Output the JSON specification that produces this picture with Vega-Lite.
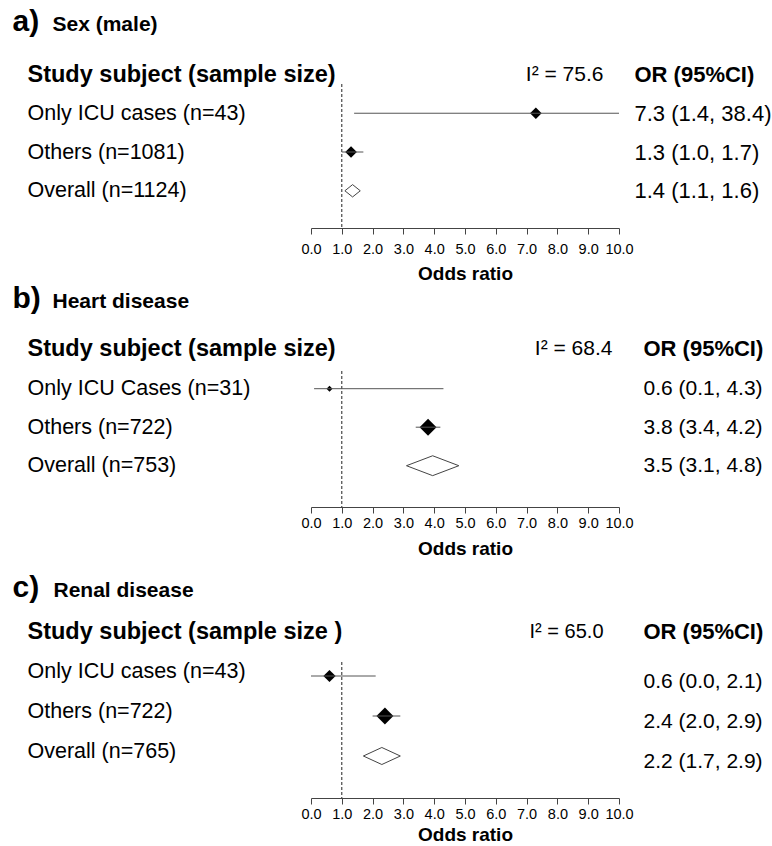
{
  "$schema": "https://vega.github.io/schema/vega-lite/v6.json",
  "background": "white",
  "padding": {"left": 12, "top": 6, "right": 0, "bottom": 0},
  "autosize": {"type": "pad"},
  "spacing": 13,
  "config": {
    "view": {"stroke": null},
    "axis": {"grid": false, "labelColor": "black", "titleColor": "black", "labelFont": "Liberation Sans", "titleFont": "Liberation Sans"}
  },
  "datasets": {
    "a": [
      {"row": 1, "label": "Only ICU cases (n=43)", "ci": "7.3 (1.4, 38.4)", "or": 7.3, "lo": 1.4, "hi": 38.4, "weight": 45, "type": "study"},
      {"row": 2, "label": "Others (n=1081)", "ci": "1.3 (1.0, 1.7)", "or": 1.3, "lo": 1.0, "hi": 1.7, "weight": 45, "type": "study"},
      {"row": 3, "label": "Overall (n=1124)", "ci": "1.4 (1.1, 1.6)", "or": 1.4, "lo": 1.1, "hi": 1.6, "type": "overall"}
    ],
    "b": [
      {"row": 1, "label": "Only ICU Cases (n=31)", "ci": "0.6 (0.1, 4.3)", "or": 0.6, "lo": 0.1, "hi": 4.3, "weight": 12, "type": "study"},
      {"row": 2, "label": "Others (n=722)", "ci": "3.8 (3.4, 4.2)", "or": 3.8, "lo": 3.4, "hi": 4.2, "weight": 95, "type": "study"},
      {"row": 3, "label": "Overall (n=753)", "ci": "3.5 (3.1, 4.8)", "or": 3.5, "lo": 3.1, "hi": 4.8, "type": "overall"}
    ],
    "c": [
      {"row": 1, "label": "Only ICU cases (n=43)", "ci": "0.6 (0.0, 2.1)", "or": 0.6, "lo": 0.0, "hi": 2.1, "weight": 50, "type": "study"},
      {"row": 2, "label": "Others (n=722)", "ci": "2.4 (2.0, 2.9)", "or": 2.4, "lo": 2.0, "hi": 2.9, "weight": 95, "type": "study"},
      {"row": 3, "label": "Overall (n=765)", "ci": "2.2 (1.7, 2.9)", "or": 2.2, "lo": 1.7, "hi": 2.9, "type": "overall"}
    ]
  },
  "vconcat": [
    {
      "spacing": -1,
      "vconcat": [
        {
          "width": 308,
          "height": 144,
          "data": {"name": "a"},
          "resolve": {"scale": {"x": "independent", "y": "independent"}},
          "layer": [
            {
              "resolve": {"scale": {"size": "independent", "x": "independent"}},
              "layer": [
                {
                  "data": {"values": [{"ref": 1}]},
                  "mark": {"type": "rule", "strokeDash": [3, 2], "color": "#222", "strokeWidth": 1},
                  "encoding": {
                    "x": {"field": "ref", "type": "quantitative", "scale": {"domain": [0, 10], "clamp": true},
                      "axis": {"orient": "bottom", "values": [0,1,2,3,4,5,6,7,8,9,10], "format": ".1f", "labelOverlap": false, "labelFlush": false, "domainColor": "#444", "tickColor": "#444", "tickSize": 6, "labelFontSize": 14.5, "labelPadding": 8, "title": "Odds ratio", "titleFontSize": 19, "titleFontWeight": "bold", "titlePadding": 9}}
                  }
                },
                {
                  "transform": [{"filter": "datum.type === 'study'"}],
                  "mark": {"type": "point", "shape": "diamond", "filled": true, "color": "black", "opacity": 1},
                  "encoding": {
                    "x": {"field": "or", "type": "quantitative", "scale": {"domain": [0, 10], "clamp": true},
                      "axis": {"orient": "top", "domain": false, "ticks": false, "labels": false, "title": "a)", "titleX": -299, "titleY": -54, "titleAlign": "left", "titleBaseline": "alphabetic", "titleFontSize": 30, "titleFontWeight": "bold"}},
                    "y": {"field": "label", "type": "nominal", "sort": {"field": "row", "op": "min"}, "scale": {"type": "point", "padding": 0.857, "align": 0.44},
                      "axis": {"orient": "left", "domain": false, "ticks": false, "tickSize": 0, "labelAlign": "left", "labelBaseline": "middle", "labelPadding": 284, "labelLimit": 600, "labelFontSize": 21.5, "title": "Study subject (sample size)", "titleAngle": 0, "titleAlign": "left", "titleBaseline": "middle", "titleX": -284, "titleY": -10, "titleFontSize": 23.5, "titleFontWeight": "bold"}},
                    "size": {"field": "weight", "type": "quantitative", "scale": {"domain": [0, 100], "range": [0, 300]}, "legend": null}
                  }
                },
                {
                  "transform": [{"filter": "datum.type === 'overall'"}, {"calculate": "(datum.lo + datum.hi) / 2", "as": "mid"}, {"calculate": "datum.hi - datum.lo", "as": "span"}],
                  "mark": {"type": "point", "shape": "M-1,0L0,-0.8L1,0L0,0.8Z", "filled": true, "fill": "white", "stroke": "#444", "strokeWidth": 1, "opacity": 1},
                  "encoding": {
                    "x": {"field": "mid", "type": "quantitative", "scale": {"domain": [0, 10], "clamp": true},
                      "axis": {"orient": "top", "domain": false, "ticks": false, "labels": false, "title": "Sex (male)", "titleX": -259, "titleY": -54, "titleAlign": "left", "titleBaseline": "alphabetic", "titleFontSize": 21, "titleFontWeight": "bold"}},
                    "y": {"field": "label", "type": "nominal", "sort": {"field": "row", "op": "min"}, "scale": {"type": "point", "padding": 0.857, "align": 0.44},
                      "axis": {"orient": "left", "domain": false, "ticks": false, "tickSize": 0, "labelAlign": "left", "labelBaseline": "middle", "labelPadding": 284, "labelLimit": 600, "labelFontSize": 21.5, "title": "Study subject (sample size)", "titleAngle": 0, "titleAlign": "left", "titleBaseline": "middle", "titleX": -284, "titleY": -10, "titleFontSize": 23.5, "titleFontWeight": "bold"}},
                    "size": {"field": "span", "type": "quantitative", "scale": {"type": "pow", "exponent": 2, "domain": [0, 10], "range": [0, 94864]}, "legend": null}
                  }
                }
              ]
            },
            {
              "mark": {"type": "rule", "color": "#555", "strokeWidth": 1},
              "encoding": {
                "x": {"field": "lo", "type": "quantitative", "scale": {"domain": [0, 10], "clamp": true},
                  "axis": {"orient": "top", "domain": false, "ticks": false, "labels": false, "title": "I² = 75.6", "titleX": 292, "titleY": -10, "titleAlign": "right", "titleBaseline": "middle", "titleFontSize": 21, "titleFontWeight": "normal"}},
                "x2": {"field": "hi"},
                "y": {"field": "ci", "type": "nominal", "sort": {"field": "row", "op": "min"}, "scale": {"type": "point", "padding": 0.857, "align": 0.44},
                  "axis": {"orient": "right", "domain": false, "ticks": false, "tickSize": 0, "labelAlign": "left", "labelBaseline": "middle", "labelPadding": 15, "labelLimit": 600, "labelFontSize": 22, "title": "OR (95%CI)", "titleAngle": 0, "titleAlign": "left", "titleBaseline": "middle", "titleX": 15, "titleY": -10, "titleFontSize": 22, "titleFontWeight": "bold"}},
                "strokeOpacity": {"field": "type", "type": "nominal", "scale": {"domain": ["study", "overall"], "range": [1, 0]}, "legend": null}
              }
            }
          ]
        },
        {
          "width": 308,
          "height": 136,
          "data": {"name": "b"},
          "resolve": {"scale": {"x": "independent", "y": "independent"}},
          "layer": [
            {
              "resolve": {"scale": {"size": "independent", "x": "independent"}},
              "layer": [
                {
                  "data": {"values": [{"ref": 1}]},
                  "mark": {"type": "rule", "strokeDash": [3, 2], "color": "#222", "strokeWidth": 1},
                  "encoding": {
                    "x": {"field": "ref", "type": "quantitative", "scale": {"domain": [0, 10], "clamp": true},
                      "axis": {"orient": "bottom", "values": [0,1,2,3,4,5,6,7,8,9,10], "format": ".1f", "labelOverlap": false, "labelFlush": false, "domainColor": "#444", "tickColor": "#444", "tickSize": 6, "labelFontSize": 14.5, "labelPadding": 3, "title": "Odds ratio", "titleFontSize": 19, "titleFontWeight": "bold", "titlePadding": 10}}
                  }
                },
                {
                  "transform": [{"filter": "datum.type === 'study'"}],
                  "mark": {"type": "point", "shape": "diamond", "filled": true, "color": "black", "opacity": 1},
                  "encoding": {
                    "x": {"field": "or", "type": "quantitative", "scale": {"domain": [0, 10], "clamp": true},
                      "axis": {"orient": "top", "domain": false, "ticks": false, "labels": false, "title": "b)", "titleX": -299, "titleY": -64, "titleAlign": "left", "titleBaseline": "alphabetic", "titleFontSize": 30, "titleFontWeight": "bold"}},
                    "y": {"field": "label", "type": "nominal", "sort": {"field": "row", "op": "min"}, "scale": {"type": "point", "padding": 0.766, "align": 0.3},
                      "axis": {"orient": "left", "domain": false, "ticks": false, "tickSize": 0, "labelAlign": "left", "labelBaseline": "middle", "labelPadding": 284, "labelLimit": 600, "labelFontSize": 21.5, "title": "Study subject (sample size)", "titleAngle": 0, "titleAlign": "left", "titleBaseline": "middle", "titleX": -284, "titleY": -23, "titleFontSize": 23.5, "titleFontWeight": "bold"}},
                    "size": {"field": "weight", "type": "quantitative", "scale": {"domain": [0, 100], "range": [0, 300]}, "legend": null}
                  }
                },
                {
                  "transform": [{"filter": "datum.type === 'overall'"}, {"calculate": "(datum.lo + datum.hi) / 2", "as": "mid"}, {"calculate": "datum.hi - datum.lo", "as": "span"}],
                  "mark": {"type": "point", "shape": "M-1,0L0,-0.38L1,0L0,0.38Z", "filled": true, "fill": "white", "stroke": "#444", "strokeWidth": 1, "opacity": 1},
                  "encoding": {
                    "x": {"field": "mid", "type": "quantitative", "scale": {"domain": [0, 10], "clamp": true},
                      "axis": {"orient": "top", "domain": false, "ticks": false, "labels": false, "title": "Heart disease", "titleX": -259, "titleY": -64, "titleAlign": "left", "titleBaseline": "alphabetic", "titleFontSize": 21, "titleFontWeight": "bold"}},
                    "y": {"field": "label", "type": "nominal", "sort": {"field": "row", "op": "min"}, "scale": {"type": "point", "padding": 0.766, "align": 0.3},
                      "axis": {"orient": "left", "domain": false, "ticks": false, "tickSize": 0, "labelAlign": "left", "labelBaseline": "middle", "labelPadding": 284, "labelLimit": 600, "labelFontSize": 21.5, "title": "Study subject (sample size)", "titleAngle": 0, "titleAlign": "left", "titleBaseline": "middle", "titleX": -284, "titleY": -23, "titleFontSize": 23.5, "titleFontWeight": "bold"}},
                    "size": {"field": "span", "type": "quantitative", "scale": {"type": "pow", "exponent": 2, "domain": [0, 10], "range": [0, 94864]}, "legend": null}
                  }
                }
              ]
            },
            {
              "mark": {"type": "rule", "color": "#555", "strokeWidth": 1},
              "encoding": {
                "x": {"field": "lo", "type": "quantitative", "scale": {"domain": [0, 10], "clamp": true},
                  "axis": {"orient": "top", "domain": false, "ticks": false, "labels": false, "title": "I² = 68.4", "titleX": 301, "titleY": -23, "titleAlign": "right", "titleBaseline": "middle", "titleFontSize": 21, "titleFontWeight": "normal"}},
                "x2": {"field": "hi"},
                "y": {"field": "ci", "type": "nominal", "sort": {"field": "row", "op": "min"}, "scale": {"type": "point", "padding": 0.766, "align": 0.3},
                  "axis": {"orient": "right", "domain": false, "ticks": false, "tickSize": 0, "labelAlign": "left", "labelBaseline": "middle", "labelPadding": 24, "labelLimit": 600, "labelFontSize": 21, "title": "OR (95%CI)", "titleAngle": 0, "titleAlign": "left", "titleBaseline": "middle", "titleX": 24, "titleY": -23, "titleFontSize": 22, "titleFontWeight": "bold"}},
                "strokeOpacity": {"field": "type", "type": "nominal", "scale": {"domain": ["study", "overall"], "range": [1, 0]}, "legend": null}
              }
            }
          ]
        }
      ]
    },
    {
      "width": 308,
      "height": 136,
      "data": {"name": "c"},
      "resolve": {"scale": {"x": "independent", "y": "independent"}},
      "layer": [
        {
          "resolve": {"scale": {"size": "independent", "x": "independent"}},
          "layer": [
            {
              "data": {"values": [{"ref": 1}]},
              "mark": {"type": "rule", "strokeDash": [3, 2], "color": "#222", "strokeWidth": 1},
              "encoding": {
                "x": {"field": "ref", "type": "quantitative", "scale": {"domain": [0, 10], "clamp": true},
                  "axis": {"orient": "bottom", "values": [0,1,2,3,4,5,6,7,8,9,10], "format": ".1f", "labelOverlap": false, "labelFlush": false, "domainColor": "#444", "tickColor": "#444", "tickSize": 6, "labelFontSize": 14.5, "labelPadding": 3, "title": "Odds ratio", "titleFontSize": 19, "titleFontWeight": "bold", "titlePadding": 5}}
              }
            },
            {
              "transform": [{"filter": "datum.type === 'study'"}],
              "mark": {"type": "point", "shape": "diamond", "filled": true, "color": "black", "opacity": 1},
              "encoding": {
                "x": {"field": "or", "type": "quantitative", "scale": {"domain": [0, 10], "clamp": true},
                  "axis": {"orient": "top", "domain": false, "ticks": false, "labels": false, "title": "c)", "titleX": -299, "titleY": -66, "titleAlign": "left", "titleBaseline": "alphabetic", "titleFontSize": 30, "titleFontWeight": "bold"}},
                "y": {"field": "label", "type": "nominal", "sort": {"field": "row", "op": "min"}, "scale": {"type": "point", "padding": 0.7, "align": 0.25},
                  "axis": {"orient": "left", "domain": false, "ticks": false, "tickSize": 0, "labelAlign": "left", "labelBaseline": "middle", "labelPadding": 284, "labelOffset": -5, "labelLimit": 600, "labelFontSize": 21.5, "title": "Study subject (sample size )", "titleAngle": 0, "titleAlign": "left", "titleBaseline": "middle", "titleX": -284, "titleY": -31, "titleFontSize": 23.5, "titleFontWeight": "bold"}},
                "size": {"field": "weight", "type": "quantitative", "scale": {"domain": [0, 100], "range": [0, 300]}, "legend": null}
              }
            },
            {
              "transform": [{"filter": "datum.type === 'overall'"}, {"calculate": "(datum.lo + datum.hi) / 2", "as": "mid"}, {"calculate": "datum.hi - datum.lo", "as": "span"}],
              "mark": {"type": "point", "shape": "M-1,0L0,-0.46L1,0L0,0.46Z", "filled": true, "fill": "white", "stroke": "#444", "strokeWidth": 1, "opacity": 1},
              "encoding": {
                "x": {"field": "mid", "type": "quantitative", "scale": {"domain": [0, 10], "clamp": true},
                  "axis": {"orient": "top", "domain": false, "ticks": false, "labels": false, "title": "Renal disease", "titleX": -258, "titleY": -66, "titleAlign": "left", "titleBaseline": "alphabetic", "titleFontSize": 21, "titleFontWeight": "bold"}},
                "y": {"field": "label", "type": "nominal", "sort": {"field": "row", "op": "min"}, "scale": {"type": "point", "padding": 0.7, "align": 0.25},
                  "axis": {"orient": "left", "domain": false, "ticks": false, "tickSize": 0, "labelAlign": "left", "labelBaseline": "middle", "labelPadding": 284, "labelOffset": -5, "labelLimit": 600, "labelFontSize": 21.5, "title": "Study subject (sample size )", "titleAngle": 0, "titleAlign": "left", "titleBaseline": "middle", "titleX": -284, "titleY": -31, "titleFontSize": 23.5, "titleFontWeight": "bold"}},
                "size": {"field": "span", "type": "quantitative", "scale": {"type": "pow", "exponent": 2, "domain": [0, 10], "range": [0, 94864]}, "legend": null}
              }
            }
          ]
        },
        {
          "mark": {"type": "rule", "color": "#555", "strokeWidth": 1},
          "encoding": {
            "x": {"field": "lo", "type": "quantitative", "scale": {"domain": [0, 10], "clamp": true},
              "axis": {"orient": "top", "domain": false, "ticks": false, "labels": false, "title": "I² = 65.0", "titleX": 292, "titleY": -31, "titleAlign": "right", "titleBaseline": "middle", "titleFontSize": 20, "titleFontWeight": "normal"}},
            "x2": {"field": "hi"},
            "y": {"field": "ci", "type": "nominal", "sort": {"field": "row", "op": "min"}, "scale": {"type": "point", "padding": 0.7, "align": 0.25},
              "axis": {"orient": "right", "domain": false, "ticks": false, "tickSize": 0, "labelAlign": "left", "labelBaseline": "middle", "labelPadding": 24, "labelOffset": 5, "labelLimit": 600, "labelFontSize": 21, "title": "OR (95%CI)", "titleAngle": 0, "titleAlign": "left", "titleBaseline": "middle", "titleX": 24, "titleY": -31, "titleFontSize": 22, "titleFontWeight": "bold"}},
            "strokeOpacity": {"field": "type", "type": "nominal", "scale": {"domain": ["study", "overall"], "range": [1, 0]}, "legend": null}
          }
        }
      ]
    }
  ]
}
